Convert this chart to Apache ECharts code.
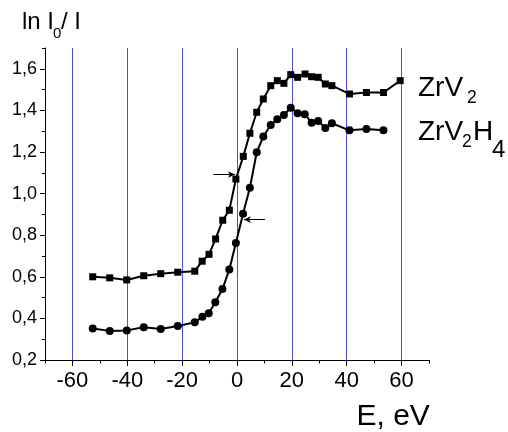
<!DOCTYPE html>
<html>
<head>
<meta charset="utf-8">
<script src="https://cdn.jsdelivr.net/npm/echarts@6/dist/echarts.min.js"></script>
<style>
html,body{margin:0;padding:0;background:#fff;}
#chart{width:508px;height:432px;}
</style>
</head>
<body>
<div id="chart"></div>
<script>
// ---- data ----
var E_ZrV2 = [-52.6,-46.4,-40.2,-34.0,-27.8,-21.6,-15.4,-12.7,-10.2,-7.8,-5.2,-2.8,-0.4,2.3,4.7,7.2,9.6,12.3,14.7,17.1,19.6,22.1,24.8,27.2,29.6,32.2,34.6,41.0,47.2,53.4,59.5];
var Y_ZrV2 = [0.600,0.595,0.585,0.605,0.615,0.622,0.627,0.675,0.708,0.782,0.872,0.920,1.070,1.179,1.290,1.391,1.455,1.519,1.543,1.530,1.572,1.559,1.575,1.562,1.559,1.527,1.519,1.479,1.486,1.486,1.543];
var E_ZrV2H4 = [-52.6,-46.4,-40.2,-34.0,-27.8,-21.6,-15.4,-12.6,-10.3,-7.9,-5.3,-2.8,-0.4,2.2,4.7,7.2,9.6,12.3,14.7,17.1,19.6,22.1,24.7,27.2,29.6,32.2,34.6,41.0,47.2,53.4];
var Y_ZrV2H4 = [0.351,0.340,0.342,0.358,0.349,0.363,0.381,0.408,0.425,0.478,0.541,0.635,0.763,0.903,1.028,1.199,1.274,1.330,1.357,1.378,1.413,1.386,1.382,1.341,1.349,1.315,1.338,1.304,1.310,1.305];
var gridLinesX = [-60, -40, -20, 0, 20, 40, 60];
var arrow1 = [[-8.6, 1.092], [-0.7, 1.092]];
var arrow2 = [[10.2, 0.875], [2.5, 0.875]];
var xMin = -70, xMax = 70, xMajorMin = -60, xMajorMax = 60, xMajorStep = 20;
var yMin = 0.2, yMax = 1.7, yMajorMax = 1.6, yMajorStep = 0.2;

function pairs(xs, ys){ return xs.map(function(x,i){ return [x, ys[i]]; }); }

var FONT = '"Liberation Sans", Arial, sans-serif';
var chart = echarts.init(document.getElementById('chart'), null, {renderer:'canvas'});

var GL = 45, GR = 79, GT = 48, GB = 72;
var plotW = 508 - GL - GR;
var pxPerX = plotW / (xMax - xMin);
var plotH = 432 - GT - GB;
var pxPerY = plotH / (yMax - yMin);

function txt(text, x, baseline, fs){
  return {type:'text', style:{text:text, x:x, y:baseline - 0.35*fs, font: fs+'px '+FONT, fill:'#000', textAlign:'left', textVerticalAlign:'middle', verticalAlign:'middle'}, z:10};
}

var option = {
  animation:false,
  backgroundColor:'#fff',
  grid:[
    {left:GL, right:GR, top:GT, bottom:GB},
    {left:GL + (xMajorMin - xMin)*pxPerX, right:GR + (xMax - xMajorMax)*pxPerX, top:GT, bottom:GB},
    {left:GL, right:GR, top:GT + (yMax - yMajorMax)*pxPerY, bottom:GB}
  ],
  xAxis:[
    {gridIndex:0, type:'value', min:xMin, max:xMax, interval:10,
     axisLine:{show:true, onZero:false, lineStyle:{color:'#000', width:1}},
     axisTick:{show:true, inside:false, length:3.5, lineStyle:{color:'#000'}},
     axisLabel:{show:false}, splitLine:{show:false}},
    {gridIndex:1, type:'value', min:xMajorMin, max:xMajorMax, interval:xMajorStep,
     axisLine:{show:false, onZero:false},
     axisTick:{show:true, length:6, lineStyle:{color:'#000'}},
     axisLabel:{show:true, fontSize:22, fontFamily:FONT, color:'#000', margin:10},
     splitLine:{show:false}},
    {gridIndex:2, type:'value', min:xMin, max:xMax, show:false, splitLine:{show:false}, axisLine:{show:false}}
  ],
  yAxis:[
    {gridIndex:0, type:'value', min:yMin, max:yMax, interval:0.1,
     axisLine:{show:true, onZero:false, lineStyle:{color:'#000', width:1}},
     axisTick:{show:true, length:3, lineStyle:{color:'#000'}},
     axisLabel:{show:false}, splitLine:{show:false}},
    {gridIndex:1, type:'value', min:0, max:1, show:false, splitLine:{show:false}, axisLine:{show:false}},
    {gridIndex:2, type:'value', min:yMin, max:yMajorMax, interval:yMajorStep,
     axisLine:{show:false, onZero:false},
     axisTick:{show:true, length:5, lineStyle:{color:'#000'}},
     axisLabel:{show:true, fontSize:18, fontFamily:FONT, color:'#000', margin:8,
       formatter:function(v){ return v.toFixed(1).replace('.', ','); }},
     splitLine:{show:false}}
  ],
  series:[
    {type:'line', name:'grid', xAxisIndex:0, yAxisIndex:0, data:[], z:1,
     markLine:{silent:true, symbol:['none','none'], label:{show:false}, z:1,
       lineStyle:{color:'#4a4aff', width:1, type:'solid'},
       data:gridLinesX.map(function(v){ return {xAxis:v}; })}},
    {type:'line', name:'ZrV2', xAxisIndex:0, yAxisIndex:0, data:pairs(E_ZrV2, Y_ZrV2),
     symbol:'rect', symbolSize:7, showAllSymbol:true,
     lineStyle:{color:'#000', width:2}, itemStyle:{color:'#000'}, z:3,
     markLine:{silent:true, symbol:['none','arrow'], symbolSize:[5,7], label:{show:false},
       lineStyle:{color:'#000', width:1, type:'solid'},
       data:[[{coord:arrow1[0]},{coord:arrow1[1]}],[{coord:arrow2[0]},{coord:arrow2[1]}]]}},
    {type:'line', name:'ZrV2H4', xAxisIndex:0, yAxisIndex:0, data:pairs(E_ZrV2H4, Y_ZrV2H4),
     symbol:'circle', symbolSize:8, showAllSymbol:true,
     lineStyle:{color:'#000', width:2}, itemStyle:{color:'#000'}, z:3}
  ],
  graphic:[
    txt('ln I', 22, 31, 24),
    txt('0', 53, 39.5, 15),
    txt('/ I', 61, 31, 24),
    txt('E, eV', 356.5, 427, 30),
    txt('ZrV', 418, 98.3, 28),
    txt('2', 467, 104.3, 17.5),
    txt('ZrV', 418, 142.3, 28),
    txt('2', 462, 148.3, 17.5),
    txt('H', 473, 142.3, 28),
    txt('4', 492, 159, 24)
  ]
};
chart.setOption(option);
</script>
</body>
</html>
